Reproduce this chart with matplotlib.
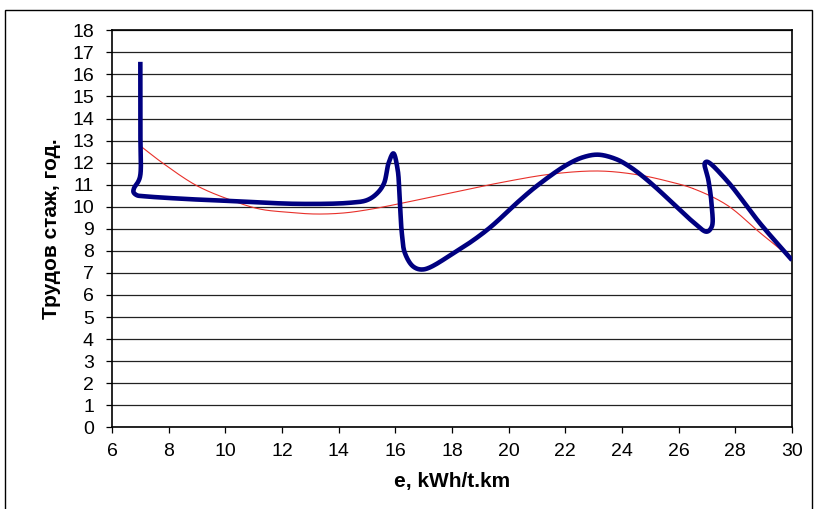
import numpy as np
import matplotlib
matplotlib.use("Agg")
import matplotlib.pyplot as plt
from matplotlib.patches import Rectangle

plt.rcParams['font.family'] = ['Liberation Sans Narrow', 'Liberation Sans', 'DejaVu Sans']

# blue curve (smoothed line through read points)
blue_x = [7.0, 7.0, 7.0, 6.93, 6.78, 6.76, 6.88, 7.1, 8.5, 10.2, 12.6, 14.4, 15.0, 15.35, 15.6,
          15.76, 15.93, 16.08, 16.14, 16.23, 16.34, 16.64, 17.0, 18.05, 19.23, 20.4, 21.0, 22.05,
          22.64, 23.17, 23.81, 24.28, 24.75, 25.23, 26.52, 26.99, 27.17, 27.17, 27.05, 26.92, 27.0,
          27.69, 28.87, 30.0]
blue_y = [16.57, 13.5, 11.44, 11.15, 10.85, 10.66, 10.52, 10.48, 10.36, 10.26, 10.13, 10.18, 10.3,
          10.6, 11.06, 11.97, 12.42, 11.7, 10.76, 8.79, 7.89, 7.28, 7.16, 7.89, 8.94, 10.3, 10.95,
          11.9, 12.25, 12.36, 12.15, 11.81, 11.36, 10.83, 9.3, 8.87, 9.1, 10.0, 11.2, 11.97, 12.04,
          11.2, 9.25, 7.58]

# red trend line
red_x = [7.0, 7.8, 9.0, 10.2, 11.2, 12.2, 13.2, 14.2, 15.1, 16.0, 18.0, 19.7, 21.5, 23.2,
         24.6, 25.7, 26.5, 27.7, 28.9, 30.0]
red_y = [12.76, 11.97, 10.95, 10.3, 9.9, 9.75, 9.67, 9.72, 9.88, 10.1, 10.64, 11.09, 11.48,
         11.62, 11.44, 11.13, 10.83, 10.08, 8.79, 7.65]

x_ticks = list(range(6, 31, 2))
y_ticks = list(range(0, 19))

# pixels per data unit, so the spline is built in screen space
SX, SY = 28.33, 22.06


def smooth(xs, ys, n=30):
    # centripetal catmull-rom, like a smoothed excel line
    p = np.column_stack([np.array(xs) * SX, np.array(ys) * SY]).astype(float)
    p = np.vstack([2 * p[0] - p[1], p, 2 * p[-1] - p[-2]])
    out = []
    for i in range(1, len(p) - 2):
        p0, p1, p2, p3 = p[i - 1], p[i], p[i + 1], p[i + 2]
        t0 = 0.0
        t1 = t0 + np.linalg.norm(p1 - p0) ** 0.5 + 1e-9
        t2 = t1 + np.linalg.norm(p2 - p1) ** 0.5 + 1e-9
        t3 = t2 + np.linalg.norm(p3 - p2) ** 0.5 + 1e-9
        t = np.linspace(t1, t2, n)[:, None]
        a1 = (t1 - t) / (t1 - t0) * p0 + (t - t0) / (t1 - t0) * p1
        a2 = (t2 - t) / (t2 - t1) * p1 + (t - t1) / (t2 - t1) * p2
        a3 = (t3 - t) / (t3 - t2) * p2 + (t - t2) / (t3 - t2) * p3
        b1 = (t2 - t) / (t2 - t0) * a1 + (t - t0) / (t2 - t0) * a2
        b2 = (t3 - t) / (t3 - t1) * a2 + (t - t1) / (t3 - t1) * a3
        c = (t2 - t) / (t2 - t1) * b1 + (t - t1) / (t2 - t1) * b2
        out.append(c)
    c = np.vstack(out)
    return c[:, 0] / SX, c[:, 1] / SY


fig = plt.figure(figsize=(8.15, 5.09), dpi=100)
ax = fig.add_axes([112 / 815, 1 - 427.3 / 509, (792 - 112) / 815, (427.3 - 30.3) / 509])

for y in y_ticks:
    ax.axhline(y, color='#222222', lw=0.9, zorder=1)

rx, ry = smooth(red_x, red_y)
ax.plot(rx, ry, color='#e8302a', lw=0.8, zorder=2)
bx, by = smooth(blue_x, blue_y)
ax.plot(bx, by, color='#000080', lw=3.3, zorder=3, solid_capstyle='butt', solid_joinstyle='round')

ax.set_xlim(6, 30)
ax.set_ylim(0, 18)
ax.set_xticks(x_ticks)
ax.set_yticks(y_ticks)
ax.tick_params(axis='both', direction='out', length=4, width=0.9, labelsize=14, colors='black')
ax.tick_params(axis='y', pad=9)
ax.tick_params(axis='x', pad=7)
for s in ax.spines.values():
    s.set_linewidth(1.2)
    s.set_color('black')

ax.set_xlabel('e, kWh/t.km', fontsize=15, fontweight='bold', labelpad=9)
ax.set_ylabel('Трудов стаж, год.', fontsize=15, fontweight='bold', labelpad=8)

fig.patches.append(Rectangle((5 / 815, -0.05), 807 / 815, 1.05 - 10 / 509,
                             transform=fig.transFigure, fill=False, edgecolor='black', lw=1))

fig.savefig('out.png', dpi=100)
